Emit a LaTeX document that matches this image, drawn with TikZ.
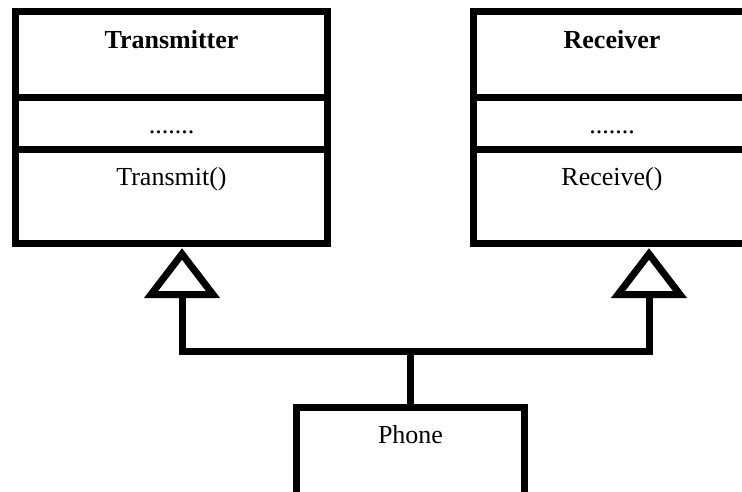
\documentclass[tikz,border=0pt]{standalone}
\usepackage{fontspec}
\setmainfont{Liberation Serif}
\begin{document}
\begin{tikzpicture}[x=1pt,y=-1pt,
  umlbox/.style={draw, line width=7pt, rectangle, inner sep=0pt, outer sep=0pt},
  umlline/.style={line width=7pt, miter limit=10},
  label/.style={inner sep=0pt, anchor=base, font=\fontsize{26}{30}\selectfont},
  gentri/.style={line width=7pt, fill=white, line join=miter}]
\useasboundingbox (0,0) rectangle (742,491);
\clip (0,0) rectangle (742,491);
% class boxes
\node[umlbox, minimum width=312pt, minimum height=232pt] (tbox) at (171,127) {};
\node[umlbox, minimum width=278pt, minimum height=232pt] (rbox) at (612,127) {};
\node[umlbox, minimum width=228pt, minimum height=93pt] (pbox) at (410,453.5) {};
% dividers
\draw[umlline] (tbox.west |- 0,97) -- (tbox.east |- 0,97);
\draw[umlline] (tbox.west |- 0,149) -- (tbox.east |- 0,149);
\draw[umlline] (rbox.west |- 0,97) -- (rbox.east |- 0,97);
\draw[umlline] (rbox.west |- 0,149) -- (rbox.east |- 0,149);
% texts
\node[label, font=\fontsize{26}{30}\selectfont\bfseries] (tname) at (171.5,48) {Transmitter};
\node[label] (tattr) at (171.5,133.5) {.......};
\node[label] (top) at (171.5,185) {Transmit()};
\node[label, font=\fontsize{26}{30}\selectfont\bfseries] (rname) at (612,48) {Receiver};
\node[label] (rattr) at (612,133.5) {.......};
\node[label] (rop) at (612,185) {Receive()};
\node[label] (pname) at (410.5,443) {Phone};
% generalization connectors
\coordinate (tapex) at (182,254);
\coordinate (rapex) at (649,254);
\coordinate (tbase) at (182,294.5);
\coordinate (rbase) at (649,294.5);
\coordinate (join) at (410,351);
\draw[umlline] (pbox.north -| join) -- (join);
\draw[umlline] (tbase) |- (join) -| (rbase);
\draw[gentri] (tapex) -- ++(-31,40.5) -- ++(62,0) -- cycle;
\draw[gentri] (rapex) -- ++(-31,40.5) -- ++(62,0) -- cycle;
\end{tikzpicture}
\end{document}
